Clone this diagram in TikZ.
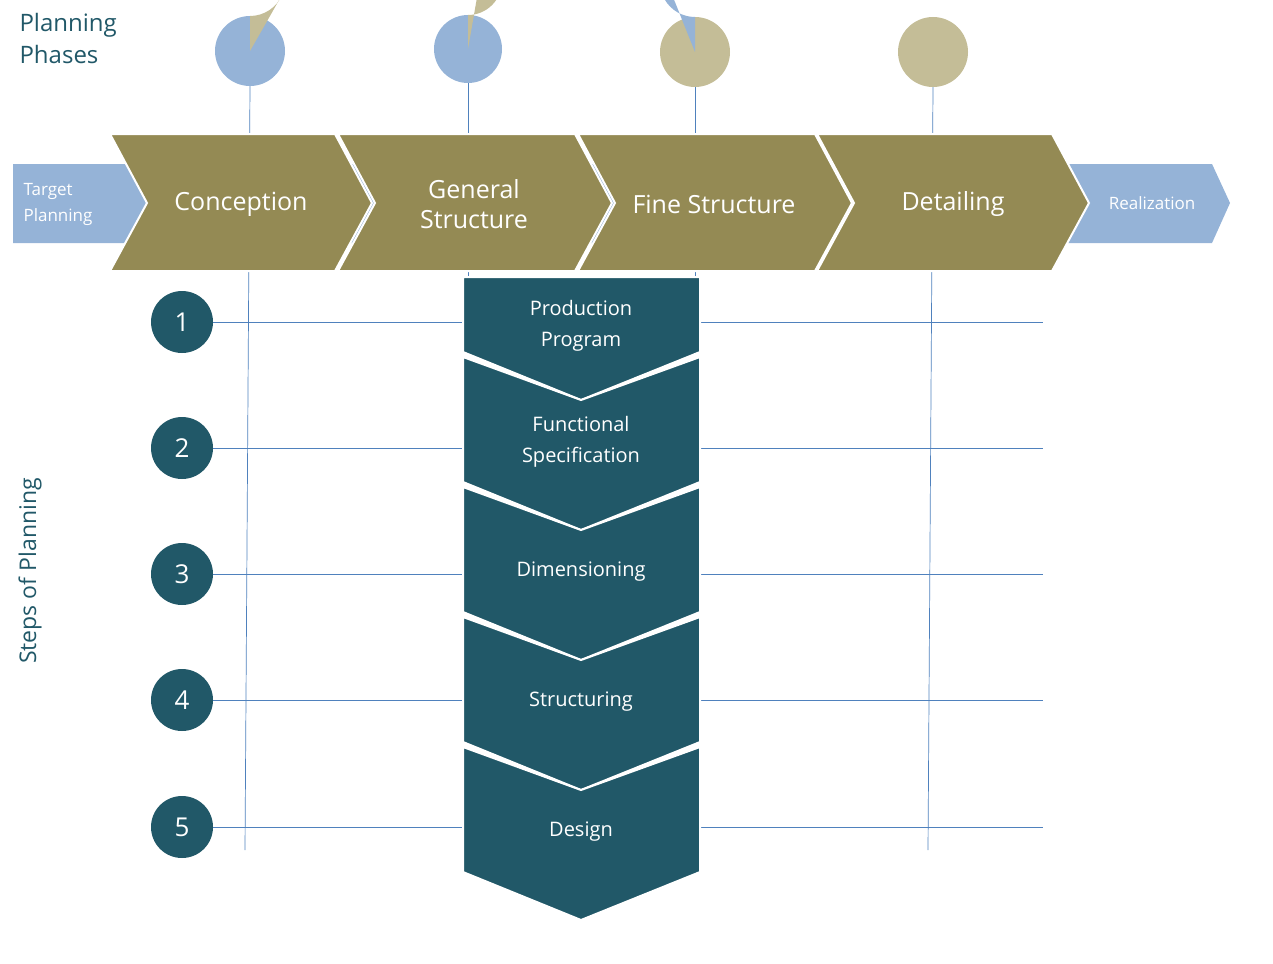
\documentclass[tikz,border=0pt]{standalone}
\usepackage{fontspec}
\setmainfont{Open Sans}
\definecolor{tealc}{HTML}{215868}
\definecolor{olive}{HTML}{948A54}
\definecolor{tan}{HTML}{C4BD97}
\definecolor{lblue}{HTML}{95B3D7}
\definecolor{ln}{HTML}{4F81BD}
\tikzset{
  gline/.style={ln,line width=0.7pt},
  phase/.style={fill=olive,draw=white,line width=2pt},
  stepS/.style={fill=tealc,draw=white,line width=2pt},
  num/.style={circle,fill=tealc,minimum size=62pt,inner sep=0pt,text=white,font=\fontsize{26}{30}\selectfont},
  plbl/.style={text=white,align=center,font=\fontsize{25}{30}\selectfont},
  slbl/.style={text=white,align=center,font=\fontsize{20}{31}\selectfont},
}
\begin{document}
\begin{tikzpicture}[x=1pt,y=-1pt]
\useasboundingbox (0,0) rectangle (1273,963);
% vertical lines from pies
\draw[gline] (250,86) -- (245,850);
\draw[gline] (468,83) -- (468,300);
\draw[gline] (695,87) -- (695,300);
\draw[gline] (933,87) -- (928,850);
% horizontal lines
\foreach \y in {322,448,574,700,827} \draw[gline] (213,\y) -- (1043,\y);
% blue arrow
\fill[lblue] (13,164) -- (1212,164) -- (1230,203) -- (1212,243) -- (13,243) -- cycle;
% phase chevrons
\foreach \a/\b in {110/335,338/575,578/815,817/1052}
  \draw[phase] (\a,134) -- (\b,134) -- (\b+37,203) -- (\b,271) -- (\a,271) -- (\a+37,203) -- cycle;
\node[text=white,align=left,font=\fontsize{17}{26}\selectfont,anchor=west] (tp) at (20,204) {Target\\Planning};
\node[plbl] (c1) at (241,204) {Conception};
\node[plbl] (c2) at (474,204) {General\\Structure};
\node[plbl] (c3) at (714,204) {Fine Structure};
\node[plbl] (c4) at (953,204) {Detailing};
\node[text=white,font=\fontsize{17}{20}\selectfont] (re) at (1152,203) {Realization};
% pies
\fill[lblue] (250,51) circle (35);
\fill[tan] (250,51) -- (250,16) arc (90:22:35) -- cycle;
\fill[lblue] (468,49) circle (34);
\fill[tan] (468,49) -- (468,15) arc (90:-60:34) -- cycle;
\fill[tan] (695,52) circle (35);
\fill[lblue] (695,52) -- (695,17) arc (90:200:35) -- cycle;
\fill[tan] (933,52) circle (35);
% step chevrons
\draw[stepS] (463,277) -- (700,277) -- (700,352) -- (581,400) -- (463,352) -- cycle;
\foreach \t in {0,130,260,390}
  \draw[stepS] (463,357+\t) -- (581,400+\t) -- (700,357+\t) -- (700,482+\t) -- (581,530+\t) -- (463,482+\t) -- cycle;
\node[slbl] (s1) at (581,326) {Production\\Program};
\node[slbl] (s2) at (581,442) {Functional\\Specification};
\node[slbl] (s3) at (581,572) {Dimensioning};
\node[slbl] (s4) at (581,702) {Structuring};
\node[slbl] (s5) at (581,832) {Design};
% numbers
\foreach \i/\y in {1/322,2/448,3/574,4/700,5/827}
  \node[num] (n\i) at (182,\y) {\i};
\node[text=tealc,align=left,anchor=north west,font=\fontsize{24}{32}\selectfont] (pp) at (16,10) {Planning\\Phases};
\node[text=tealc,rotate=90,font=\fontsize{23}{28}\selectfont] (sp) at (30,571) {Steps of Planning};
\end{tikzpicture}
\end{document}
